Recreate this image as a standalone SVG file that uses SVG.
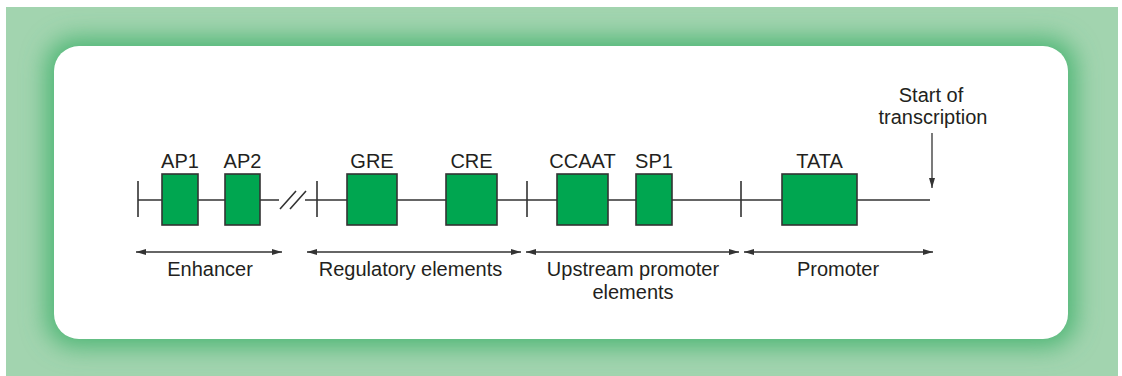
<svg xmlns="http://www.w3.org/2000/svg" width="1122" height="376" viewBox="0 0 1122 376">
  <style>
    .txt { font-family: "Liberation Sans", Arial, sans-serif; font-size: 20px; fill: #231f20; text-anchor: middle; }
    .dna { stroke: #333; stroke-width: 1.6; fill: none; }
    .box { fill: #00a650; stroke: #333; stroke-width: 1.6; }
    .span { stroke: #333; stroke-width: 1.3; fill: none; marker-start: url(#ah); marker-end: url(#ah); }
  </style>
  <defs>
    <marker id="ah" viewBox="0 0 10 6" refX="10" refY="3" markerWidth="10" markerHeight="6" markerUnits="userSpaceOnUse" orient="auto-start-reverse">
      <path d="M0,0 L10,3 L0,6 Z" fill="#333"/>
    </marker>
    <marker id="ahd" viewBox="0 0 6 10" refX="3" refY="10" markerWidth="6" markerHeight="10" markerUnits="userSpaceOnUse" orient="0">
      <path d="M0,0 L3,10 L6,0 Z" fill="#333"/>
    </marker>
    <filter id="glow" x="-10%" y="-30%" width="120%" height="160%">
      <feGaussianBlur stdDeviation="12"/>
    </filter>
    <clipPath id="outerClip">
      <rect x="6" y="7" width="1112" height="369"/>
    </clipPath>
  </defs>

  <g id="background">
    <rect x="6" y="7" width="1112" height="369" fill="#a2d4af"/>
    <g clip-path="url(#outerClip)">
      <rect x="46" y="38" width="1030" height="309" rx="30" fill="#4db674" filter="url(#glow)"/>
    </g>
    <rect x="54" y="46" width="1014" height="293" rx="25" fill="#ffffff"/>
  </g>

  <g id="connectors">
    <path class="dna" d="M138,200 H279 M305,200 H930"/>
    <path class="dna" d="M138,181 V217 M317,181 V217 M527,181 V217 M741,181 V217"/>
    <path class="dna" d="M280,209 L296,191 M290,209 L306,191"/>
    <line class="span" x1="136" y1="252" x2="282" y2="252"/>
    <line class="span" x1="307" y1="252" x2="521" y2="252"/>
    <line class="span" x1="526" y1="252" x2="739" y2="252"/>
    <line class="span" x1="744" y1="252" x2="933" y2="252"/>
    <line x1="932" y1="133" x2="932" y2="188" stroke="#333" stroke-width="1.3" marker-end="url(#ahd)"/>
  </g>

  <g id="AP1"><rect class="box" x="162" y="174" width="36" height="51"/><text class="txt" x="180" y="168">AP1</text></g>
  <g id="AP2"><rect class="box" x="225" y="174" width="35" height="51"/><text class="txt" x="242.5" y="168">AP2</text></g>
  <g id="GRE"><rect class="box" x="347" y="174" width="50" height="51"/><text class="txt" x="372" y="168">GRE</text></g>
  <g id="CRE"><rect class="box" x="446" y="174" width="51" height="51"/><text class="txt" x="471.5" y="168">CRE</text></g>
  <g id="CCAAT"><rect class="box" x="557" y="174" width="51" height="51"/><text class="txt" x="582.5" y="168">CCAAT</text></g>
  <g id="SP1"><rect class="box" x="636" y="174" width="36" height="51"/><text class="txt" x="654" y="168">SP1</text></g>
  <g id="TATA"><rect class="box" x="782" y="174" width="75" height="51"/><text class="txt" x="819.5" y="168">TATA</text></g>

  <g id="start-label">
    <text class="txt" x="931" y="102">Start of</text>
    <text class="txt" x="933" y="124">transcription</text>
  </g>
  <g id="enhancer"><text class="txt" x="210" y="276">Enhancer</text></g>
  <g id="regulatory"><text class="txt" x="410.5" y="276">Regulatory elements</text></g>
  <g id="upstream"><text class="txt" x="633" y="276">Upstream promoter</text><text class="txt" x="633" y="299">elements</text></g>
  <g id="promoter"><text class="txt" x="838" y="276">Promoter</text></g>
</svg>
